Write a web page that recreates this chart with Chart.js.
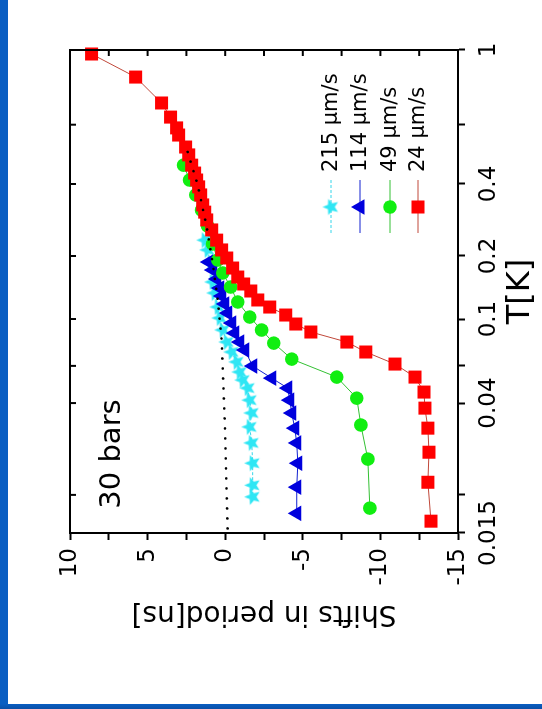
<!DOCTYPE html>
<html><head><meta charset="utf-8">
<script src="https://cdn.jsdelivr.net/npm/chart.js@4/dist/chart.umd.min.js"></script>
<style>
html,body{margin:0;padding:0;background:#fff;width:542px;height:709px;overflow:hidden;}
#wrap{position:absolute;left:0;top:0;width:709px;height:542px;transform-origin:0 0;transform:translate(0,709px) rotate(-90deg);}
#bl{position:absolute;left:0;top:0;width:8px;height:709px;background:#0a5ec2;}
#bb{position:absolute;left:0;top:704px;width:542px;height:5px;background:linear-gradient(#0a5ec2,#0a4fa6);}
</style></head><body>
<div id="wrap"><canvas id="c" width="709" height="542"></canvas></div>
<div id="bl"></div><div id="bb"></div>
<script>
// ---- data (T in K, shift in ns) ----
const seriesLabels = ['215 µm/s', '114 µm/s', '49 µm/s', '24 µm/s'];
const annotationText = '30 bars';
const xTitle = 'T[K]';
const yTitle = 'Shifts in period[ns]';
const tempTicks = [0.015, 0.02, 0.04, 0.06, 0.1, 0.2, 0.4, 0.6, 1];
const tempTickLabels = [0.015, 0.04, 0.1, 0.2, 0.4, 1];
// axis calibration of the printed T axis: labelled values and where they sit along the axis (0..1)
const calibT = [0.015, 0.04, 0.1, 0.2, 0.4, 1];
const calibFrac = [0, 0.269, 0.443, 0.5735, 0.7226, 1];
const shiftMin = -15, shiftMax = 10, shiftStep = 2.5, shiftLabelStep = 5;

const T24 = [0.973,0.831,0.696,0.632,0.587,0.559,0.515,0.488,0.455,0.431,0.411,0.389,0.360,0.327,0.305,0.283,0.257,0.233,0.212,0.1956,0.1752,0.1587,0.1470,0.1361,0.1233,0.1141,0.1045,0.0947,0.0868,0.0778,0.0698,0.0612,0.0531,0.0451,0.0385,0.0331,0.0276,0.0220,0.0164];
const S24 = [8.61,5.77,4.10,3.52,3.13,3.00,2.55,2.35,2.16,1.97,1.84,1.71,1.58,1.45,1.32,1.19,0.87,0.55,0.23,-0.10,-0.48,-0.81,-1.19,-1.65,-2.10,-2.87,-3.90,-4.55,-5.52,-7.84,-9.06,-10.94,-12.23,-12.81,-12.87,-13.06,-13.13,-13.06,-13.26];

const T49 = [0.455,0.411,0.360,0.311,0.267,0.2245,0.1913,0.1659,0.1422,0.1206,0.1022,0.0887,0.0769,0.0646,0.0531,0.0422,0.0339,0.0262,0.0181];
const S49 = [2.68,2.29,1.90,1.52,1.13,0.81,0.48,0.16,-0.35,-0.81,-1.58,-2.35,-3.13,-4.29,-7.19,-8.48,-8.74,-9.19,-9.32];

const T114 = [0.1872,0.1714,0.1553,0.1406,0.1288,0.1180,0.1068,0.0957,0.0858,0.0778,0.0713,0.0599,0.0525,0.0471,0.0413,0.0371,0.0331,0.0296,0.0254,0.0212,0.0174];
const S114 = [1.06,0.81,0.55,0.35,0.23,0.03,-0.16,-0.42,-0.61,-0.94,-1.26,-1.77,-3.00,-4.03,-4.16,-4.29,-4.48,-4.61,-4.68,-4.61,-4.61];

const T215 = [0.233,0.212,0.1852,0.1502,0.1331,0.1141,0.1011,0.0887,0.0778,0.0698,0.0626,0.0561,0.0514,0.0471,0.0413,0.0371,0.0334,0.0296,0.0254,0.0215,0.0197];
const S215 = [1.32,1.13,0.94,0.81,0.68,0.48,0.35,0.16,-0.10,-0.42,-0.74,-0.94,-1.13,-1.45,-1.58,-1.71,-1.58,-1.71,-1.77,-1.77,-1.77];

const Tbg = [0.498,0.396,0.2644,0.1852,0.1233,0.0795,0.0352,0.0153];
const Sbg = [2.42,1.77,1.19,0.81,0.48,0.23,0.03,-0.16];

// ---- custom log scale following the printed axis calibration ----
const calibL = calibT.map(Math.log10);
function warpFrac(v) {
  const L = Math.log10(v);
  let i = 0;
  while (i < calibL.length - 2 && L > calibL[i + 1]) i++;
  return calibFrac[i] + (L - calibL[i]) * (calibFrac[i + 1] - calibFrac[i]) / (calibL[i + 1] - calibL[i]);
}
function warpInv(f) {
  let i = 0;
  while (i < calibFrac.length - 2 && f > calibFrac[i + 1]) i++;
  const L = calibL[i] + (f - calibFrac[i]) * (calibL[i + 1] - calibL[i]) / (calibFrac[i + 1] - calibFrac[i]);
  return Math.pow(10, L);
}
class WarpLogScale extends Chart.LogarithmicScale {
  getPixelForValue(value) {
    if (value === null || value === undefined || isNaN(value) || value <= 0) return NaN;
    return this.getPixelForDecimal(warpFrac(value));
  }
  getValueForPixel(pixel) { return warpInv(this.getDecimalForPixel(pixel)); }
}
WarpLogScale.id = 'warplog';
WarpLogScale.defaults = Chart.LogarithmicScale.defaults;
Chart.register(WarpLogScale);

// ---- helpers ----
const pts = (T, S) => T.map((t, i) => ({x: t, y: S[i]}));
function makeStar(r, fill) {
  const s = Math.ceil(2 * r + 2);
  const c = document.createElement('canvas'); c.width = s; c.height = s;
  const g = c.getContext('2d');
  g.beginPath();
  for (let i = 0; i < 10; i++) {
    const a = -Math.PI / 2 + i * Math.PI / 5;
    const rr = i % 2 ? r * 0.45 : r;
    g.lineTo(s / 2 + rr * Math.cos(a), s / 2 + rr * Math.sin(a));
  }
  g.closePath(); g.fillStyle = fill; g.fill();
  return c;
}
const starImg = makeStar(8.5, '#2fe6f4');
const FONT = 'DejaVu Sans';

const datasets = [
  {label: 'empty', data: pts(Tbg, Sbg), showLine: true, pointRadius: 0, borderColor: '#000', borderWidth: 2.6,
   borderDash: [0.1, 9.9], borderCapStyle: 'round', order: 0, clip: 12},
  {label: seriesLabels[3], data: pts(T24, S24), showLine: true, borderColor: '#c0483a', borderWidth: 1,
   pointStyle: 'rect', pointRadius: 9.2, pointBackgroundColor: '#ff0000', pointBorderWidth: 0, order: 1, clip: 12},
  {label: seriesLabels[2], data: pts(T49, S49), showLine: true, borderColor: '#33c033', borderWidth: 1,
   pointStyle: 'circle', pointRadius: 6.8, pointBackgroundColor: '#11ee11', pointBorderWidth: 0, order: 2, clip: 12},
  {label: seriesLabels[1], data: pts(T114, S114), showLine: true, borderColor: '#1020d0', borderWidth: 1,
   pointStyle: 'triangle', pointRadius: 9, pointBackgroundColor: '#0000dd', pointBorderWidth: 0, order: 3, clip: 12},
  {label: seriesLabels[0], data: pts(T215, S215), showLine: true, borderColor: '#35d6ea', borderWidth: 1,
   borderDash: [3, 2], pointStyle: starImg, pointRadius: 8.5, pointBackgroundColor: '#2fe6f4', pointBorderWidth: 0, order: 4, clip: 12}
];

const deco = {
  id: 'deco',
  afterDraw(chart) {
    const {ctx, chartArea: a, scales} = chart;
    const xs = scales.x, ys = scales.y;
    ctx.save();
    ctx.strokeStyle = '#000'; ctx.lineWidth = 2;
    ctx.strokeRect(a.left, a.top, a.right - a.left, a.bottom - a.top);
    for (let v = shiftMin; v <= shiftMax; v += shiftStep) {
      const y = ys.getPixelForValue(v);
      ctx.beginPath(); ctx.moveTo(a.right, y); ctx.lineTo(a.right - 6, y); ctx.stroke();
    }
    tempTicks.forEach(t => {
      const x = xs.getPixelForValue(t);
      ctx.beginPath(); ctx.moveTo(x, a.top); ctx.lineTo(x, a.top + 6); ctx.stroke();
    });
    ctx.fillStyle = '#000';
    ctx.font = '29px "' + FONT + '"';
    ctx.textAlign = 'center'; ctx.textBaseline = 'middle';
    ctx.fillText(annotationText, 255, 112);
    const rows = [331, 360, 390, 418];
    const order = [4, 3, 2, 1];
    ctx.font = '21px "' + FONT + '"';
    ctx.textAlign = 'left';
    order.forEach((di, k) => {
      const ds = chart.data.datasets[di];
      const y = rows[k];
      ctx.save();
      ctx.strokeStyle = ds.borderColor; ctx.lineWidth = 1;
      ctx.setLineDash(ds.borderDash || []);
      ctx.beginPath(); ctx.moveTo(476, y); ctx.lineTo(529, y); ctx.stroke();
      ctx.restore();
      const cx = 502;
      ctx.fillStyle = ds.pointBackgroundColor;
      const r = ds.pointRadius;
      if (ds.pointStyle === 'rect') {
        const s = Math.SQRT1_2 * r; ctx.fillRect(cx - s, y - s, 2 * s, 2 * s);
      } else if (ds.pointStyle === 'circle') {
        ctx.beginPath(); ctx.arc(cx, y, r, 0, Math.PI * 2); ctx.fill();
      } else if (ds.pointStyle === 'triangle') {
        ctx.beginPath();
        let rad = 0;
        for (let i = 0; i < 3; i++) { ctx.lineTo(cx + Math.sin(rad) * r, y - Math.cos(rad) * r); rad += 2 * Math.PI / 3; }
        ctx.closePath(); ctx.fill();
      } else {
        ctx.drawImage(starImg, cx - starImg.width / 2, y - starImg.height / 2);
      }
      ctx.fillStyle = '#000';
      ctx.fillText(ds.label, 537, y + 1);
    });
    ctx.restore();
  }
};

new Chart(document.getElementById('c'), {
  type: 'scatter',
  data: {datasets},
  options: {
    responsive: false, animation: false, devicePixelRatio: 1,
    layout: {padding: {left: 73, right: 50, top: 70, bottom: 0}},
    plugins: {legend: {display: false}, tooltip: {enabled: false}},
    scales: {
      x: {
        type: 'warplog', position: 'bottom', min: 0.015, max: 1,
        afterBuildTicks: s => { s.ticks = tempTicks.map(v => ({value: v})); },
        afterFit: s => { s.height = 84; },
        ticks: {autoSkip: false, maxRotation: 0, minRotation: 0, padding: 10, color: '#000',
          font: {family: FONT, size: 23},
          callback: v => tempTickLabels.includes(v) ? String(v) : ''},
        grid: {drawOnChartArea: false, tickLength: 7, tickWidth: 2, tickColor: '#000'},
        border: {display: true, color: '#000', width: 2},
        title: {display: true, text: xTitle, color: '#000', font: {family: FONT, size: 32}, padding: {top: 0, bottom: 2}}
      },
      y: {
        type: 'linear', position: 'left', min: shiftMin, max: shiftMax,
        afterFit: s => { s.width = 103; },
        ticks: {stepSize: shiftStep, padding: 8, color: '#000', font: {family: FONT, size: 23},
          callback: v => (Math.abs(v % shiftLabelStep) < 1e-9) ? String(v === 0 ? 0 : v) : ''},
        grid: {drawOnChartArea: false, tickLength: 7, tickWidth: 2, tickColor: '#000'},
        border: {display: true, color: '#000', width: 2},
        title: {display: true, text: yTitle, color: '#000', font: {family: FONT, size: 28}, padding: {top: 6, bottom: 0}}
      }
    }
  },
  plugins: [deco]
});
</script>
</body></html>
